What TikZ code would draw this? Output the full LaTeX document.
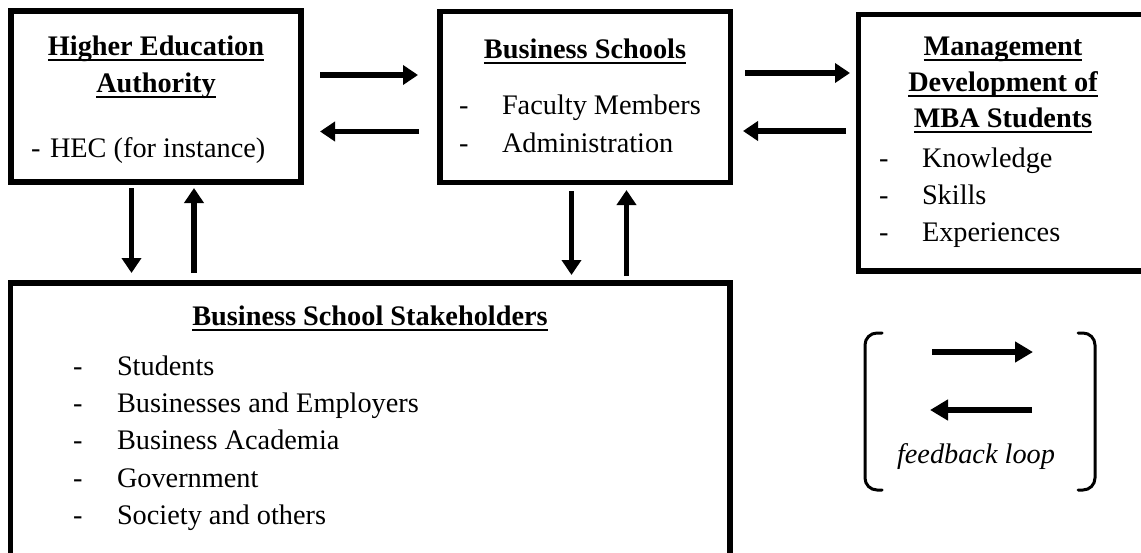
\documentclass[tikz,border=0pt]{standalone}
\usepackage{fontspec}
\setmainfont{Liberation Serif}
\usetikzlibrary{arrows.meta}
% underline that spans the whole box of its argument
\newcommand\ulbox[1]{\setbox0=\hbox{#1}\rlap{\rule[-5.5pt]{\wd0}{2pt}}\box0}
\begin{document}
\begin{tikzpicture}[x=1pt,y=-1pt,
  box/.style={draw=black,line width=5.5pt,inner sep=0pt,outer sep=0pt},
  txt/.style={inner sep=0pt,outer sep=0pt,anchor=base,font=\fontsize{28.3}{34}\selectfont},
  ttl/.style={txt,font=\fontsize{28.3}{34}\selectfont\bfseries},
  lft/.style={txt,anchor=base west},
  arr/.style={line width=5.5pt,-{Triangle[length=15pt,width=19pt]}},
  fbarr/.style={line width=6pt,-{Triangle[length=18pt,width=20pt]}},
  bracket/.style={line width=3pt,rounded corners=12pt,line cap=round}]
\useasboundingbox (0,0) rectangle (1141,552);
\fill[white] (0,0) rectangle (1141,552);
\clip (0,0) rectangle (1141,552);

% boxes
\node[box,minimum width=290pt,minimum height=171pt] (hea) at (156,96.5) {};
\node[box,minimum width=290.5pt,minimum height=171pt] (bs) at (585.25,97) {};
\node[box,minimum width=291.5pt,minimum height=256.5pt] (mgmt) at (1004.25,142.75) {};
\node[box,minimum width=719.5pt,minimum height=287pt] (stake) at (370.25,426.5) {};

% Higher Education Authority
\node[ttl] (heaT1) at (156,55) {\ulbox{Higher Education}};
\node[ttl] (heaT2) at (156,92) {\ulbox{Authority}};
\node[lft] (heaD) at (31,157) {-};
\node[lft] (heaI) at (50,157) {HEC (for instance)};

% Business Schools
\node[ttl] (bsT) at (585,58) {\ulbox{Business Schools}};
\node[lft] (bsD1) at (459,114) {-};
\node[lft] (bsI1) at (502,114) {Faculty Members};
\node[lft] (bsD2) at (459,152) {-};
\node[lft] (bsI2) at (502,152) {Administration};

% Management Development of MBA Students
\node[ttl] (mgT1) at (1003,55) {\ulbox{Management}};
\node[ttl] (mgT2) at (1003,91) {\ulbox{Development of}};
\node[ttl] (mgT3) at (1003,127) {\ulbox{MBA Students}};
\node[lft] (mgD1) at (879,167) {-};
\node[lft] (mgI1) at (922,167) {Knowledge};
\node[lft] (mgD2) at (879,204) {-};
\node[lft] (mgI2) at (922,204) {Skills};
\node[lft] (mgD3) at (879,241) {-};
\node[lft] (mgI3) at (922,241) {Experiences};

% Business School Stakeholders
\node[ttl] (stT) at (370,325) {\ulbox{Business School Stakeholders}};
\node[lft] (stD1) at (73,375) {-};
\node[lft] (stI1) at (117,375) {Students};
\node[lft] (stD2) at (73,412) {-};
\node[lft] (stI2) at (117,412) {Businesses and Employers};
\node[lft] (stD3) at (73,449) {-};
\node[lft] (stI3) at (117,449) {Business Academia};
\node[lft] (stD4) at (73,487) {-};
\node[lft] (stI4) at (117,487) {Government};
\node[lft] (stD5) at (73,524) {-};
\node[lft] (stI5) at (117,524) {Society and others};

% horizontal links
\draw[arr] ([shift={(19,-21.5)}]hea.east) -- ([shift={(-22,-22)}]bs.west);
\draw[arr] ([shift={(-21,34.5)}]bs.west) -- ([shift={(19,35)}]hea.east);
\draw[arr] ([shift={(14.5,-24)}]bs.east) -- ([shift={(-8.5,-69.75)}]mgmt.west);
\draw[arr] ([shift={(-12.5,-11.75)}]mgmt.west) -- ([shift={(12.5,34)}]bs.east);

% vertical links
\draw[arr] ([shift={(-24.5,6)}]hea.south) -- ([shift={(121,-10)}]stake.north west);
\draw[arr] ([shift={(183.5,-10)}]stake.north west) -- ([shift={(38,6)}]hea.south);
\draw[arr] ([shift={(-13.75,8.5)}]bs.south) -- ([shift={(-158.5,-8)}]stake.north east);
\draw[arr] ([shift={(-103.5,-7)}]stake.north east) -- ([shift={(41.25,7.5)}]bs.south);

% legend
\coordinate (fbR1) at (932,352);
\coordinate (fbR2) at (1033,352);
\coordinate (fbL1) at (1032,410);
\coordinate (fbL2) at (930,410);
\draw[fbarr] (fbR1) -- (fbR2);
\draw[fbarr] (fbL1) -- (fbL2);
\node[txt,font=\fontsize{28.3}{34}\selectfont\itshape] (fbT) at (976,463) {feedback loop};
\draw[bracket] (882,333) -- (865,333) -- (865,490) -- (882,490);
\draw[bracket] (1078,333) -- (1095,333) -- (1095,490) -- (1078,490);
\end{tikzpicture}
\end{document}
